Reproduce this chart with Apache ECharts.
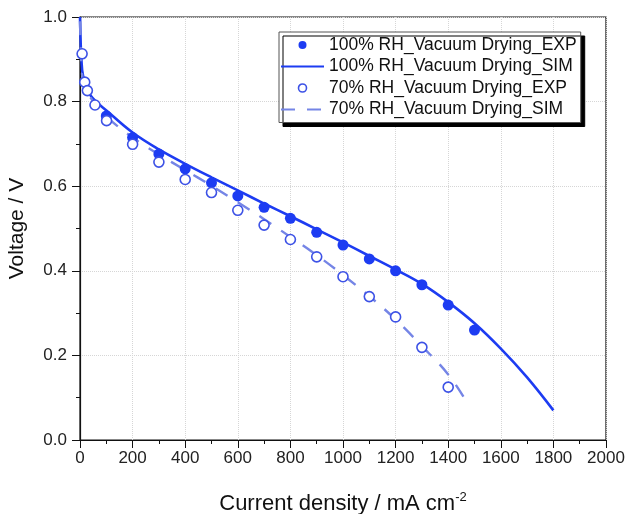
<!DOCTYPE html>
<html>
<head>
<meta charset="utf-8">
<script src="https://cdn.jsdelivr.net/npm/echarts@6/dist/echarts.min.js"></script>
<style>html,body{margin:0;padding:0;background:#fff}#c{width:626px;height:514px}</style>
</head>
<body>
<div id="c"></div>
<script>
// Data
var exp100 = [[100,0.766],[200,0.715],[300,0.676],[400,0.641],[500,0.608],[600,0.577],[700,0.550],[800,0.524],[900,0.491],[1000,0.461],[1100,0.428],[1200,0.400],[1300,0.367],[1400,0.319],[1500,0.260]];
var sim100 = [[0,1.0],[2,0.95],[5,0.905],[12,0.86],[38,0.816],[114,0.772],[200,0.727],[300,0.687],[400,0.653],[500,0.621],[600,0.590],[700,0.559],[800,0.529],[900,0.498],[1000,0.467],[1100,0.435],[1200,0.403],[1300,0.369],[1400,0.326],[1500,0.276],[1600,0.216],[1700,0.148],[1800,0.070]];
var exp70 = [[8,0.913],[18,0.846],[28,0.826],[57,0.792],[101,0.755],[200,0.699],[300,0.657],[400,0.616],[500,0.585],[600,0.543],[700,0.508],[800,0.474],[900,0.433],[1000,0.386],[1100,0.339],[1200,0.291],[1300,0.219],[1400,0.125]];
var sim70 = [[0,0.99],[3,0.93],[10,0.855],[50,0.80],[100,0.765],[200,0.715],[300,0.675],[400,0.638],[500,0.601],[600,0.562],[700,0.522],[800,0.480],[900,0.437],[1000,0.390],[1100,0.340],[1200,0.285],[1300,0.222],[1400,0.155],[1470,0.090]];
var seriesNames = ['100% RH_Vacuum Drying_EXP','100% RH_Vacuum Drying_SIM','70% RH_Vacuum Drying_EXP','70% RH_Vacuum Drying_SIM'];

var blue = '#1d3cf2';
var lightBlue = '#7585e6';
var openBlue = '#3d52e6';
var font = 'Liberation Sans, Arial, sans-serif';

var chart = echarts.init(document.getElementById('c'), null, {renderer:'canvas'});
chart.setOption({
  animation: false,
  textStyle: {fontFamily: font},
  grid: {left: 80, right: 20, top: 17, bottom: 74, show: true, borderColor: '#111', borderWidth: 1.2, containLabel: false, outerBoundsMode: 'none'},
  legend: {
    left: 279, top: 32, orient: 'vertical', itemGap: 3.5, itemWidth: 43, itemHeight: 8,
    padding: [4, 4, 4, 1],
    backgroundColor: '#fff', borderColor: '#555', borderWidth: 1,
    shadowColor: '#000', shadowOffsetX: 4, shadowOffsetY: 4, shadowBlur: 0,
    textStyle: {fontSize: 17.5, color: '#111', fontFamily: font},
    data: [
      {name: seriesNames[0], icon: 'circle', itemStyle: {color: blue, opacity: 1}},
      {name: seriesNames[1], itemStyle: {color: 'rgba(0,0,0,0)', borderWidth: 0, opacity: 0}},
      {name: seriesNames[2], icon: 'circle', itemStyle: {color: '#fff', borderColor: openBlue, borderWidth: 1.6}},
      {name: seriesNames[3], itemStyle: {color: 'rgba(0,0,0,0)', borderWidth: 0, opacity: 0}}
    ]
  },
  xAxis: {
    type: 'value', min: 0, max: 2000, interval: 200,
    name: '{a|Current density / mA cm}{s|-2}', nameLocation: 'middle', nameGap: 51,
    nameTextStyle: {rich: {a: {fontSize: 22, color: '#111', fontFamily: font}, s: {fontSize: 13, color: '#111', verticalAlign: 'top', padding: [0,0,12,0], fontFamily: font}}},
    axisLine: {show: true, lineStyle: {color: '#111', width: 1.2}},
    axisTick: {show: true, length: 8, lineStyle: {color: '#111'}},
    minorTick: {show: true, splitNumber: 2, length: 4, lineStyle: {color: '#111'}},
    axisLabel: {fontSize: 17, color: '#222', margin: 10, fontFamily: font, formatter: function(v){return String(v);}},
    splitLine: {show: true, lineStyle: {color: '#d6d6d6', type: 'dotted'}}
  },
  yAxis: {
    type: 'value', min: 0, max: 1.0, interval: 0.2,
    name: 'Voltage / V', nameLocation: 'middle', nameGap: 52,
    nameTextStyle: {fontSize: 21, color: '#111', fontFamily: font},
    axisLine: {show: true, lineStyle: {color: '#111', width: 1.2}},
    axisTick: {show: true, length: 8, lineStyle: {color: '#111'}},
    minorTick: {show: true, splitNumber: 2, length: 4, lineStyle: {color: '#111'}},
    axisLabel: {fontSize: 17, color: '#222', margin: 13, fontFamily: font, formatter: function(v){return v.toFixed(1);}},
    splitLine: {show: true, lineStyle: {color: '#d6d6d6', type: 'dotted'}}
  },
  series: [
    {name: seriesNames[1], type: 'line', data: sim100, symbol: 'none', smooth: 0.4, lineStyle: {color: blue, width: 2.6}, itemStyle: {color: blue}, z: 3},
    {name: seriesNames[3], type: 'line', data: sim70, symbol: 'none', smooth: 0.4, lineStyle: {color: lightBlue, width: 2.4, type: [14, 12]}, itemStyle: {color: lightBlue}, z: 3},
    {name: seriesNames[0], type: 'scatter', data: exp100, symbol: 'circle', symbolSize: 11, itemStyle: {color: blue, opacity: 1}, z: 4},
    {name: seriesNames[2], type: 'scatter', data: exp70, symbol: 'circle', symbolSize: 10, itemStyle: {color: '#fff', borderColor: openBlue, borderWidth: 1.6, opacity: 1}, z: 4}
  ]
});
</script>
</body>
</html>
